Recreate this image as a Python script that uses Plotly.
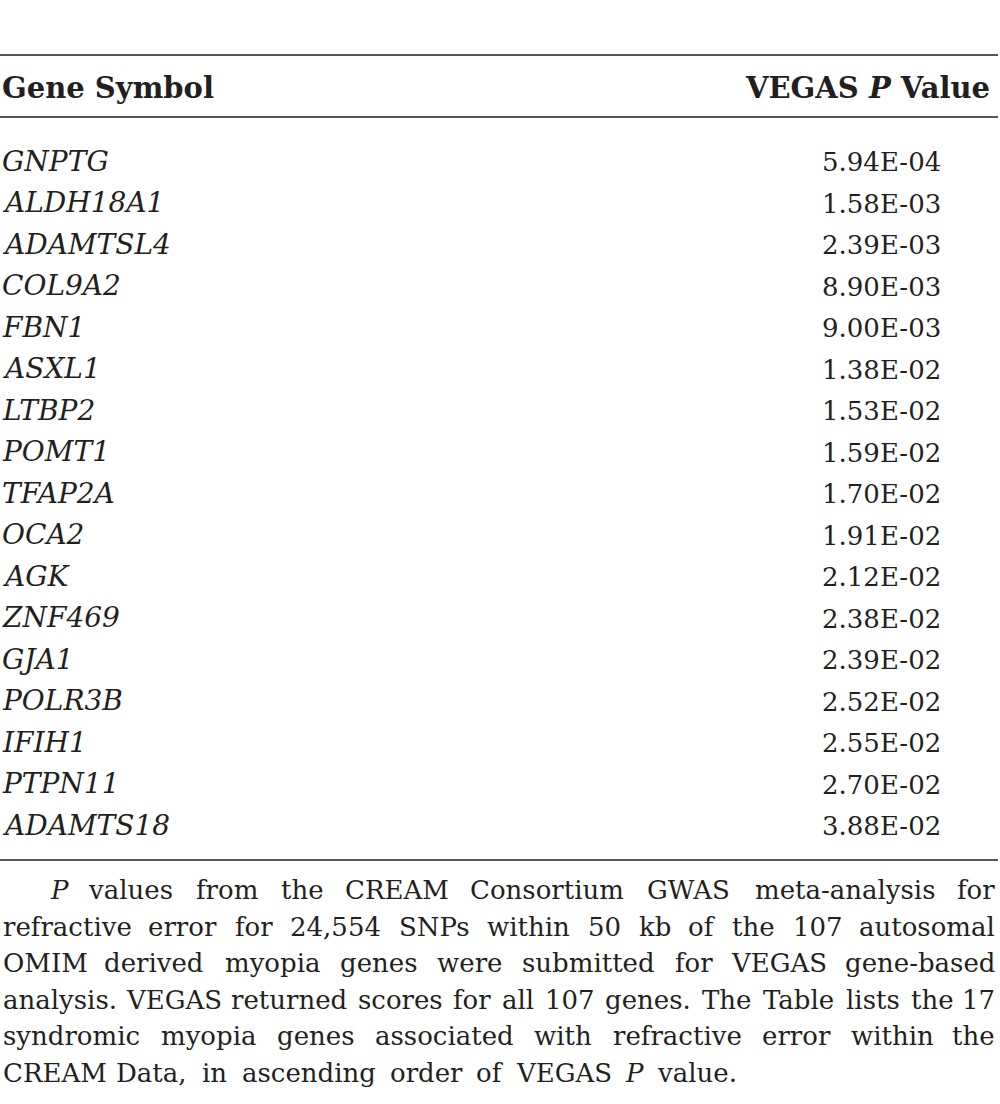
import re
import plotly.graph_objects as go

# ---------------- data ----------------
genes = ["GNPTG", "ALDH18A1", "ADAMTSL4", "COL9A2", "FBN1", "ASXL1", "LTBP2",
         "POMT1", "TFAP2A", "OCA2", "AGK", "ZNF469", "GJA1", "POLR3B", "IFIH1",
         "PTPN11", "ADAMTS18"]
p_values = ["5.94E-04", "1.58E-03", "2.39E-03", "8.90E-03", "9.00E-03",
            "1.38E-02", "1.53E-02", "1.59E-02", "1.70E-02", "1.91E-02",
            "2.12E-02", "2.38E-02", "2.39E-02", "2.52E-02", "2.55E-02",
            "2.70E-02", "3.88E-02"]
col_headers = ["Gene Symbol", "VEGAS <i>P</i> Value"]
footnote_lines = [
    "<i>P</i> values from the CREAM Consortium GWAS meta-analysis for",
    "refractive error for 24,554 SNPs within 50 kb of the 107 autosomal",
    "OMIM derived myopia genes were submitted for VEGAS gene-based",
    "analysis. VEGAS returned scores for all 107 genes. The Table lists the 17",
    "syndromic myopia genes associated with refractive error within the",
    "CREAM Data, in ascending order of VEGAS <i>P</i> value.",
]

# ---------------- style ----------------
INK = "#231f20"
FONT = "DejaVu Serif"
W_PX, H_PX = 1000, 1104

# approximate advance widths (units of 2048/em) used to spread justified words
ADV = {' ': 651, ',': 651, '-': 739, '.': 651,
       'A': 1479, 'B': 1470, 'C': 1499, 'D': 1652, 'E': 1419, 'F': 1352, 'G': 1626,
       'H': 1771, 'I': 842, 'J': 842, 'K': 1540, 'L': 1336, 'M': 2035, 'N': 1714,
       'O': 1636, 'P': 1364, 'Q': 1636, 'R': 1522, 'S': 1399, 'T': 1401, 'U': 1685,
       'V': 1479, 'W': 2126, 'X': 1477, 'Y': 1401, 'Z': 1430,
       'a': 1231, 'b': 1311, 'c': 1151, 'd': 1311, 'e': 1212, 'f': 758, 'g': 1311,
       'h': 1323, 'i': 655, 'j': 641, 'k': 1262, 'l': 655, 'm': 1972, 'n': 1323,
       'o': 1233, 'p': 1311, 'q': 1311, 'r': 979, 's': 1052, 't': 823, 'u': 1323,
       'v': 1212, 'w': 1722, 'x': 1212, 'y': 1212, 'z': 1081}
for d in "0123456789":
    ADV[d] = 1303


def word_width(word, size):
    plain = re.sub(r"<[^>]+>", "", word)
    return sum(ADV.get(ch, 1200) for ch in plain) / 2048.0 * size


fig = go.Figure()
annotations = []
shapes = []


def text(x, y_base, s, size, anchor="left", bold=False, italic=False):
    # y_base = baseline in px; convert to centre of the text box
    yc = y_base - 0.346 * size
    if bold:
        s = "<b>" + s + "</b>"
    if italic:
        s = "<i>" + s + "</i>"
    annotations.append(dict(
        x=x, y=yc, xref="x", yref="y", text=s, showarrow=False,
        xanchor=anchor, yanchor="middle",
        font=dict(family=FONT, size=size, color=INK),
    ))


def rule(y, x0=0, x1=998, w=1.4):
    shapes.append(dict(type="line", xref="x", yref="y", x0=x0, x1=x1, y0=y, y1=y,
                       line=dict(color=INK, width=w)))


# rules
rule(55)
rule(117)
rule(860)

# header
HEAD_SIZE = 29
HEAD_BASE = 98
text(0, HEAD_BASE, col_headers[0], HEAD_SIZE, "left", bold=True)
text(992, HEAD_BASE, col_headers[1], HEAD_SIZE, "right", bold=True)

# body rows
ROW0 = 171
ROW_STEP = 41.5
for i, (g, p) in enumerate(zip(genes, p_values)):
    yb = ROW0 + i * ROW_STEP
    text(0, yb, g, 28, "left", italic=True)
    text(943, yb, p, 26, "right")

# footnote, justified (first word flush left, last word flush right)
FN_SIZE = 26
FN0 = 899
FN_STEP = 36.6
last = len(footnote_lines) - 1
for li, line in enumerate(footnote_lines):
    yb = FN0 + li * FN_STEP
    words = line.split(" ")
    left = 48 if li == 0 else 1
    right = 997
    widths = [word_width(w, FN_SIZE) for w in words]
    if li < last:
        gap = (right - left - sum(widths)) / (len(words) - 1)
    else:
        gap = 14.5
    x = left
    for k, (w, ww) in enumerate(zip(words, widths)):
        if k == 0:
            text(left, yb, w, FN_SIZE, "left")
        elif k == len(words) - 1 and li < last:
            text(right, yb, w, FN_SIZE, "right")
        else:
            text(x + ww / 2, yb, w, FN_SIZE, "center")
        x += ww + gap

fig.update_layout(
    width=W_PX, height=H_PX,
    margin=dict(l=0, r=0, t=0, b=0),
    paper_bgcolor="white", plot_bgcolor="white",
    xaxis=dict(range=[0, W_PX], visible=False, fixedrange=True),
    yaxis=dict(range=[H_PX, 0], visible=False, fixedrange=True),
    annotations=annotations, shapes=shapes, showlegend=False,
)

fig.write_html(
    "out.html",
    config={"displayModeBar": False},
    post_script="document.body.style.margin='0px';document.body.style.overflow='hidden';",
)
